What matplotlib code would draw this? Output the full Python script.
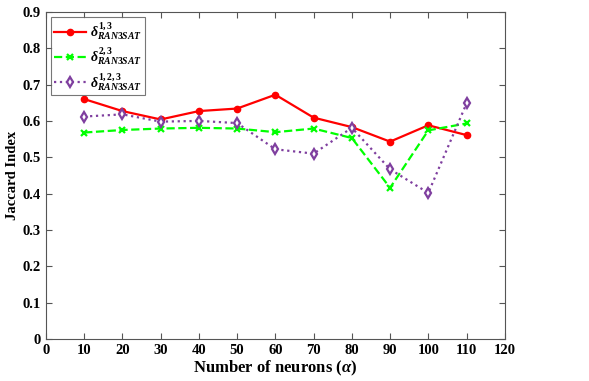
import numpy as np
import matplotlib.pyplot as plt

plt.rcParams['font.family'] = 'Liberation Serif'
plt.rcParams['font.weight'] = 'bold'
plt.rcParams['mathtext.fontset'] = 'custom'
plt.rcParams['mathtext.rm'] = 'Liberation Serif:bold'
plt.rcParams['mathtext.it'] = 'Liberation Serif:italic:bold'
plt.rcParams['mathtext.bf'] = 'Liberation Serif:bold'

neurons = [10, 20, 30, 40, 50, 60, 70, 80, 90, 100, 110]
d13 = [0.660, 0.627, 0.604, 0.627, 0.634, 0.672, 0.609, 0.583, 0.543, 0.588, 0.561]
d23 = [0.568, 0.575, 0.579, 0.581, 0.579, 0.569, 0.579, 0.553, 0.416, 0.574, 0.593]
d123 = [0.612, 0.618, 0.598, 0.600, 0.594, 0.522, 0.510, 0.581, 0.467, 0.402, 0.648]

fig = plt.figure(figsize=(5.89, 3.81), dpi=100)
ax = fig.add_axes([0.078, 0.110, 0.779, 0.859])

ax.plot(neurons, d13, '-o', color='red', lw=1.6, ms=4.5, label=r'$\delta^{1,3}_{RAN3SAT}$')
ax.plot(neurons, d23, '--x', color='#00ff00', lw=1.6, ms=4, mew=1.6,
        label=r'$\delta^{2,3}_{RAN3SAT}$')
ax.plot(neurons, d123, ':d', color='#7f3f9f', lw=1.6, ms=5.5, mfc='white', mew=1.6,
        label=r'$\delta^{1,2,3}_{RAN3SAT}$')

ax.set_xlim(0, 120)
ax.set_ylim(0, 0.9)
ax.set_xticks(np.arange(0, 121, 10))
ax.set_yticks(np.arange(0, 0.91, 0.1))
ax.set_yticklabels(['0'] + ['%.1f' % v for v in np.arange(0.1, 0.91, 0.1)])
ax.tick_params(direction='in', top=True, right=True, labelsize=10.5, length=4, color='#555555')
for s in ax.spines.values():
    s.set_color('#555555')
    s.set_linewidth(0.8)
ax.set_xlabel(r'Number of neurons ($\alpha$)', fontsize=12, fontweight='bold', labelpad=1)
ax.set_ylabel('Jaccard Index', fontsize=10.5, fontweight='bold', labelpad=3)
leg = ax.legend(loc='upper left', fontsize=10, fancybox=False, edgecolor='#555555',
                handlelength=2.3, handletextpad=0.3, borderpad=0.2, labelspacing=0.25,
                borderaxespad=0.4)
leg.get_frame().set_linewidth(0.8)

fig.savefig('out.png', dpi=100)
